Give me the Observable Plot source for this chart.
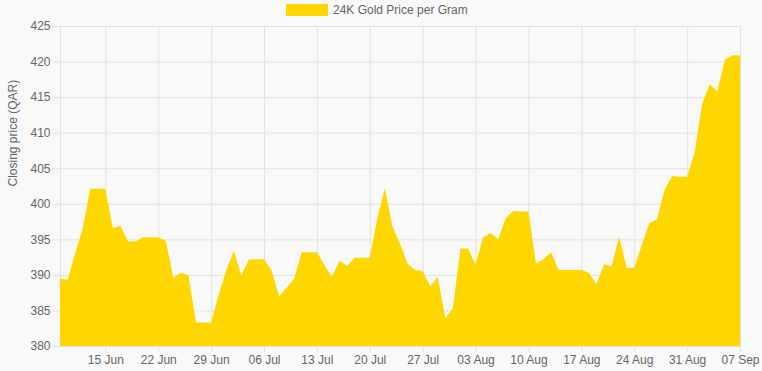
<!DOCTYPE html>
<html>
<head>
<meta charset="utf-8">
<script src="https://cdn.jsdelivr.net/npm/d3@7"></script>
<script src="https://cdn.jsdelivr.net/npm/@observablehq/plot@0.6"></script>
<style>
  html, body { margin: 0; padding: 0; background: #f9f9f9; }
  #wrap { position: relative; width: 762px; height: 371px; font-family: "Liberation Sans", Arial, Helvetica, sans-serif; }
  #legend { position: absolute; left: 286px; top: 3px; display: flex; align-items: center; font-size: 12px; color: #666; }
  #legend .box { width: 42px; height: 12px; background: #FFD700; margin-right: 5px; }
</style>
</head>
<body>
<div id="wrap">
  <div id="legend"><span class="box"></span><span id="legend-text"></span></div>
</div>
<script>
const seriesName = "24K Gold Price per Gram";
const yTitle = "Closing price (QAR)";
const dates = [
  "2025-06-09","2025-06-10","2025-06-11","2025-06-12","2025-06-13","2025-06-14","2025-06-15",
  "2025-06-16","2025-06-17","2025-06-18","2025-06-19","2025-06-20","2025-06-21","2025-06-22",
  "2025-06-23","2025-06-24","2025-06-25","2025-06-26","2025-06-27","2025-06-28","2025-06-29",
  "2025-06-30","2025-07-01","2025-07-02","2025-07-03","2025-07-04","2025-07-05","2025-07-06",
  "2025-07-07","2025-07-08","2025-07-09","2025-07-10","2025-07-11","2025-07-12","2025-07-13",
  "2025-07-14","2025-07-15","2025-07-16","2025-07-17","2025-07-18","2025-07-19","2025-07-20",
  "2025-07-21","2025-07-22","2025-07-23","2025-07-24","2025-07-25","2025-07-26","2025-07-27",
  "2025-07-28","2025-07-29","2025-07-30","2025-07-31","2025-08-01","2025-08-02","2025-08-03",
  "2025-08-04","2025-08-05","2025-08-06","2025-08-07","2025-08-08","2025-08-09","2025-08-10",
  "2025-08-11","2025-08-12","2025-08-13","2025-08-14","2025-08-15","2025-08-16","2025-08-17",
  "2025-08-18","2025-08-19","2025-08-20","2025-08-21","2025-08-22","2025-08-23","2025-08-24",
  "2025-08-25","2025-08-26","2025-08-27","2025-08-28","2025-08-29","2025-08-30","2025-08-31",
  "2025-09-01","2025-09-02","2025-09-03","2025-09-04","2025-09-05","2025-09-06","2025-09-07"
];
const prices = [
  389.5, 389.3, 393.0, 396.5, 402.1, 402.1, 402.1,
  396.6, 396.9, 394.7, 394.7, 395.3, 395.3, 395.3,
  394.8, 389.6, 390.3, 389.9, 383.3, 383.3, 383.3,
  387.2, 390.6, 393.4, 389.9, 392.2, 392.2, 392.2,
  390.6, 387.0, 388.2, 389.5, 393.2, 393.2, 393.2,
  391.4, 389.7, 392.0, 391.3, 392.4, 392.4, 392.4,
  398.0, 402.2, 396.8, 394.4, 391.6, 390.7, 390.5,
  388.4, 389.7, 383.9, 385.3, 393.7, 393.7, 391.5,
  395.3, 395.9, 395.0, 398.0, 399.0, 398.9, 398.9,
  391.6, 392.2, 393.2, 390.7, 390.7, 390.7, 390.7,
  390.3, 388.7, 391.5, 391.2, 395.4, 391.0, 391.0,
  394.2, 397.3, 397.8, 401.9, 403.9, 403.8, 403.8,
  407.3, 414.1, 416.8, 415.8, 420.3, 420.9, 420.9
];
const xTickDates = ["2025-06-15","2025-06-22","2025-06-29","2025-07-06","2025-07-13","2025-07-20",
  "2025-07-27","2025-08-03","2025-08-10","2025-08-17","2025-08-24","2025-08-31","2025-09-07"];
const yTicks = [380, 385, 390, 395, 400, 405, 410, 415, 420, 425];

const data = dates.map((d, i) => ({date: new Date(d + "T00:00:00Z"), price: prices[i]}));
const xTicks = xTickDates.map(d => new Date(d + "T00:00:00Z"));
const yMin = yTicks[0], yMax = yTicks[yTicks.length - 1];
const gridColor = "#e2e2e2";
const fmt = d3.utcFormat("%d %b");

document.getElementById("legend-text").textContent = seriesName;

const chart = Plot.plot({
  width: 762,
  height: 371,
  marginTop: 26,
  marginBottom: 25,
  marginLeft: 60,
  marginRight: 22,
  style: {background: "#f9f9f9", fontFamily: "'Liberation Sans', Arial, Helvetica, sans-serif", fontSize: "12px", color: "#666"},
  x: {type: "utc", domain: [data[0].date, data[data.length - 1].date]},
  y: {domain: [yMin, yMax]},
  marks: [
    Plot.gridX(xTicks, {stroke: gridColor, strokeOpacity: 1}),
    Plot.gridY(yTicks, {stroke: gridColor, strokeOpacity: 1}),
    Plot.ruleX([data[0].date], {stroke: gridColor}),
    Plot.areaY(data, {x: "date", y1: yMin, y2: "price", fill: "#FFD700", curve: "linear"}),
    Plot.ruleY([yMin], {stroke: gridColor}),
    Plot.axisX({ticks: xTicks, tickFormat: fmt, tickSize: 6, tickPadding: 3, stroke: gridColor, label: null}),
    Plot.axisY({ticks: yTicks, tickSize: 8, tickPadding: 2, stroke: gridColor, label: null}),
    Plot.text([yTitle], {text: d => d, frameAnchor: "left", rotate: -90, dx: -47, fill: "#666", fontSize: 12})
  ]
});
document.getElementById("wrap").appendChild(chart);
</script>
</body>
</html>
